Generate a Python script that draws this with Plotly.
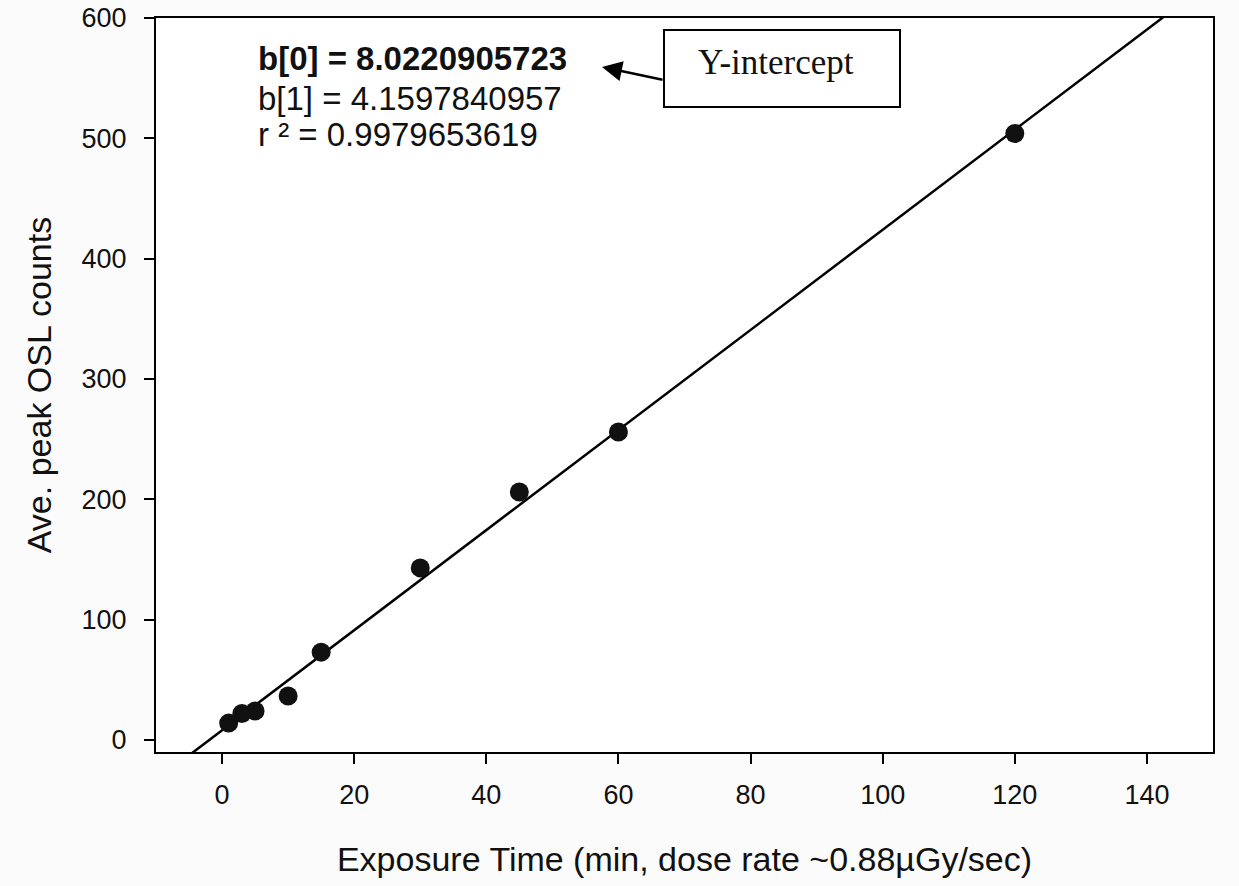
import plotly.graph_objects as go

# Data
exposure_min = [1, 3, 5, 10, 15, 30, 45, 60, 120]
osl_counts = [14, 22, 24, 36.5, 73, 143, 206, 256, 504]

b0 = 8.0220905723
b1 = 4.1597840957
r2 = 0.9979653619

line_x = [-10, 150]
line_y = [b0 + b1 * v for v in line_x]

x_ticks = [0, 20, 40, 60, 80, 100, 120, 140]
y_ticks = [0, 100, 200, 300, 400, 500, 600]

W, H = 1239, 886
L, R, T, B = 156, 1213, 18, 752


def px(x):
    return (x - L) / (R - L)


def py(y):
    return (B - y) / (B - T)


FONT = "Liberation Sans, Arial, sans-serif"

fig = go.Figure()
fig.add_trace(go.Scatter(x=line_x, y=line_y, mode="lines",
                         line=dict(color="black", width=2.5),
                         hoverinfo="skip", showlegend=False))
fig.add_trace(go.Scatter(x=exposure_min, y=osl_counts, mode="markers",
                         marker=dict(color="#111111", size=19,
                                     line=dict(width=0)),
                         showlegend=False))

axis_common = dict(showgrid=False, zeroline=False, showline=True,
                   linecolor="black", linewidth=2, mirror=True,
                   ticks="outside", ticklen=10, tickwidth=2,
                   tickcolor="black", automargin=False,
                   tickfont=dict(family=FONT, size=27, color="#111"))

fig.update_xaxes(range=[-10, 150], tickvals=x_ticks, ticklabelstandoff=8,
                 title=dict(text="Exposure Time (min, dose rate ~0.88µGy/sec)",
                            font=dict(family=FONT, size=34, color="#111"),
                            standoff=38),
                 **axis_common)
fig.update_yaxes(range=[-10, 600], tickvals=y_ticks, ticklabelstandoff=12,
                 title=dict(text="Ave. peak OSL counts",
                            font=dict(family=FONT, size=34, color="#111"),
                            standoff=20),
                 **axis_common)

ann_font = dict(family=FONT, size=33, color="#111")
fig.add_annotation(xref="paper", yref="paper", x=px(256), y=py(58),
                   xanchor="left", yanchor="middle", showarrow=False,
                   text="<b>b[0] = %.10f</b>" % b0, font=ann_font)
fig.add_annotation(xref="paper", yref="paper", x=px(256), y=py(98),
                   xanchor="left", yanchor="middle", showarrow=False,
                   text="b[1] = %.10f" % b1, font=ann_font)
fig.add_annotation(xref="paper", yref="paper", x=px(256), y=py(135),
                   xanchor="left", yanchor="middle", showarrow=False,
                   text="r ² = %.10f" % r2, font=ann_font)

# Y-intercept callout box and arrow
fig.add_shape(type="rect", xref="paper", yref="paper",
              x0=px(664), x1=px(900), y0=py(107), y1=py(30),
              line=dict(color="black", width=2), fillcolor="white")
fig.add_annotation(xref="paper", yref="paper", x=px(776), y=py(63),
                   xanchor="center", yanchor="middle", showarrow=False,
                   text="Y-intercept",
                   font=dict(family="Liberation Serif, Times New Roman, serif",
                             size=35, color="#111"))
fig.add_annotation(xref="paper", yref="paper", x=px(602), y=py(67),
                   ax=62, ay=13, axref="pixel", ayref="pixel",
                   showarrow=True, arrowhead=2, arrowsize=1.6, arrowwidth=2.5,
                   arrowcolor="black", text="")

fig.update_layout(width=W, height=H,
                  margin=dict(l=L, r=W - R, t=T, b=H - B),
                  paper_bgcolor="#fbfbfb", plot_bgcolor="white",
                  showlegend=False)

fig.write_html("out.html", config={"displayModeBar": False},
               post_script="document.body.style.margin='0';"
                           "document.body.style.overflow='hidden';")
